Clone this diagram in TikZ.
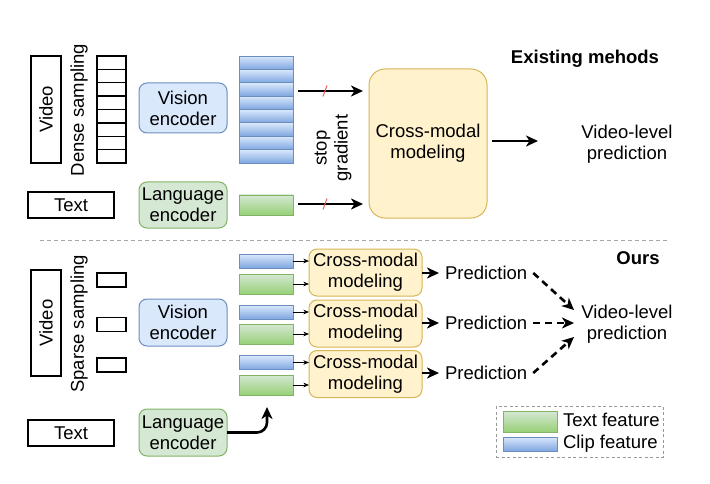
\documentclass[tikz,border=0pt]{standalone}
\usepackage{fontspec}
\setmainfont{Liberation Sans}
\usetikzlibrary{arrows.meta,calc}
\definecolor{vfill}{HTML}{DAE8FC}
\definecolor{vdark}{HTML}{7EA6E0}
\definecolor{vstroke}{HTML}{6C8EBF}
\definecolor{gfill}{HTML}{D5E8D4}
\definecolor{gdark}{HTML}{97D077}
\definecolor{gstroke}{HTML}{82B366}
\definecolor{yfill}{HTML}{FFF2CC}
\definecolor{ystroke}{HTML}{D6B656}
\definecolor{slashred}{HTML}{F06060}
\tikzset{
  base/.style={inner sep=0pt, outer sep=0pt, align=center, font=\fontsize{18.5}{21}\selectfont},
  plainbox/.style={base, draw=black, line width=1.4pt},
  framecell/.style={base, draw=black, line width=1.3pt, minimum width=29pt},
  vencbox/.style={base, draw=vstroke, fill=vfill, rounded corners=8pt, line width=1pt, minimum width=88pt},
  lencbox/.style={base, draw=gstroke, fill=gfill, rounded corners=8pt, line width=1pt, minimum width=88pt},
  cmbox/.style={base, draw=ystroke, fill=yfill, line width=1pt},
  bcell/.style={base, draw=vstroke, top color=vfill, bottom color=vdark, line width=0.8pt, minimum width=54pt},
  gcell/.style={base, draw=gstroke, top color=gfill, bottom color=gdark, line width=0.8pt, minimum width=54pt},
  arr/.style={line width=2.6pt, -{Stealth[length=12pt,width=11pt,inset=3.5pt]}},
  thinarr/.style={line width=1pt, -{Stealth[length=5.5pt,width=4.5pt,inset=1.5pt]}},
  darr/.style={arr, dash pattern=on 7pt off 5pt},
  redslash/.style={draw=slashred, line width=1pt},
  lbl/.style={base},
  boldlbl/.style={base, font=\fontsize{18.5}{21}\selectfont\bfseries},
}
\begin{document}
\begin{tikzpicture}[x=1pt,y=-1pt]
\useasboundingbox[fill=white] (0,0) rectangle (710,484);

% ---------------- Top: existing methods ----------------
\node[plainbox, rotate=90, minimum width=107pt, minimum height=30pt] (video1) at (46,109.5) {Video};
\node[lbl, rotate=90] (dense) at (79,110) {Dense sampling};
\foreach \i in {0,...,7} {
  \node[framecell, minimum height=13.375pt] (df\i) at (111.5,{62.69+13.375*\i}) {};
}
\node[vencbox, minimum height=50pt] (venc1) at (183,108) {Vision\\encoder};
\foreach \i in {0,...,7} {
  \node[bcell, minimum height=13.375pt] (vc\i) at (266,{62.69+13.375*\i}) {};
}
\node[plainbox, minimum width=86pt, minimum height=26pt] (text1) at (71,205) {Text};
\node[lencbox, minimum height=46pt] (lenc1) at (183,205) {Language\\encoder};
\node[gcell, minimum height=20pt] (tg1) at (266,205) {};

\node[cmbox, rounded corners=16pt, minimum width=118pt, minimum height=149pt] (cm1) at (428,143.5) {Cross-modal\\modeling};

\coordinate (ya) at (0,91);
\coordinate (yb) at (0,204);
\draw[arr, shorten <=5pt, shorten >=6pt] (vc2.east |- ya) -- (cm1.west |- ya);
\draw[arr, shorten <=5pt, shorten >=6pt] (tg1.east |- yb) -- (cm1.west |- yb);
\coordinate (s1) at (325,91);
\coordinate (s2) at (325,204);
\draw[redslash] ($(s1)+(-2,5.5)$) -- ($(s1)+(2,-5.5)$);
\draw[redslash] ($(s2)+(-2,5.5)$) -- ($(s2)+(2,-5.5)$);
\node[lbl, rotate=90] (stopg) at (333,148) {stop\\gradient};

\node[lbl] (vlp1) at (627,144) {Video-level\\prediction};
\coordinate (e1) at (538,141);
\draw[arr, shorten <=5pt] (cm1.east |- e1) -- (e1);

\node[boldlbl] (exist) at (585,59) {Existing mehods};

% separator
\coordinate (sepL) at (40,240);
\coordinate (sepR) at (668,240);
\draw[gray!70, line width=1pt, dash pattern=on 4pt off 3pt] (sepL) -- (sepR);

% ---------------- Bottom: ours ----------------
\node[plainbox, rotate=90, minimum width=106pt, minimum height=30pt] (video2) at (46,323) {Video};
\node[lbl, rotate=90] (sparse) at (79,324) {Sparse sampling};
\node[framecell, minimum height=14pt] (sf1) at (111.5,280) {};
\node[framecell, minimum height=14pt] (sf2) at (111.5,324.5) {};
\node[framecell, minimum height=14pt] (sf3) at (111.5,365) {};
\node[vencbox, minimum height=47pt] (venc2) at (183,322.5) {Vision\\encoder};
\node[plainbox, minimum width=86pt, minimum height=26pt] (text2) at (71,433) {Text};
\node[lencbox, minimum height=47pt] (lenc2) at (183,432.5) {Language\\encoder};

\node[bcell, minimum height=14pt] (b1) at (266,261) {};
\node[gcell, minimum height=20pt] (g1) at (266,284) {};
\node[bcell, minimum height=14pt] (b2) at (266,312) {};
\node[gcell, minimum height=20pt] (g2) at (266,334) {};
\node[bcell, minimum height=14pt] (b3) at (266,362.5) {};
\node[gcell, minimum height=20pt] (g3) at (266,385) {};

\node[cmbox, rounded corners=8pt, minimum width=113pt, minimum height=47pt] (cm2) at (365.5,272.5) {Cross-modal\\modeling};
\node[cmbox, rounded corners=8pt, minimum width=113pt, minimum height=47pt] (cm3) at (365.5,323.5) {Cross-modal\\modeling};
\node[cmbox, rounded corners=8pt, minimum width=113pt, minimum height=47pt] (cm4) at (365.5,374) {Cross-modal\\modeling};

\foreach \b/\c in {b1/cm2,g1/cm2,b2/cm3,g2/cm3,b3/cm4,g3/cm4} {
  \draw[thinarr] (\b.east) -- (\c.west |- \b.east);
}

\node[lbl, anchor=west] (p1) at (445,273) {Prediction};
\node[lbl, anchor=west] (p2) at (445,323) {Prediction};
\node[lbl, anchor=west] (p3) at (445,373) {Prediction};
\draw[arr, shorten >=6pt] (cm2.east |- p1.west) -- (p1.west);
\draw[arr, shorten >=6pt] (cm3.east |- p2.west) -- (p2.west);
\draw[arr, shorten >=6pt] (cm4.east |- p3.west) -- (p3.west);

\node[lbl] (vlp2) at (627,324.5) {Video-level\\prediction};
\coordinate (t1) at (574,310);
\coordinate (t2) at (574,323);
\coordinate (t3) at (574,337);
\draw[darr] ($(p1.east)+(6,0)$) -- (t1);
\draw[darr] ($(p2.east)+(6,0)$) -- (t2);
\draw[darr] ($(p3.east)+(6,0)$) -- (t3);

\node[boldlbl] (ours) at (638,258) {Ours};

\coordinate (tipc) at (267,407);
\draw[arr, rounded corners=10pt] (lenc2.east) -- (lenc2.east -| tipc) -- (tipc);

% legend
\node[base, draw=gray!80, line width=0.8pt, dash pattern=on 3pt off 2.5pt, minimum width=167pt, minimum height=51pt] (leg) at (579.5,431.5) {};
\node[gcell, minimum height=21pt] (lg) at (530,421.5) {};
\node[bcell, minimum height=14pt] (lb) at (530,444) {};
\node[lbl, anchor=west] (lgt) at (563,420) {Text feature};
\node[lbl, anchor=west] (lbt) at (563,444) {Clip feature};
\end{tikzpicture}
\end{document}
